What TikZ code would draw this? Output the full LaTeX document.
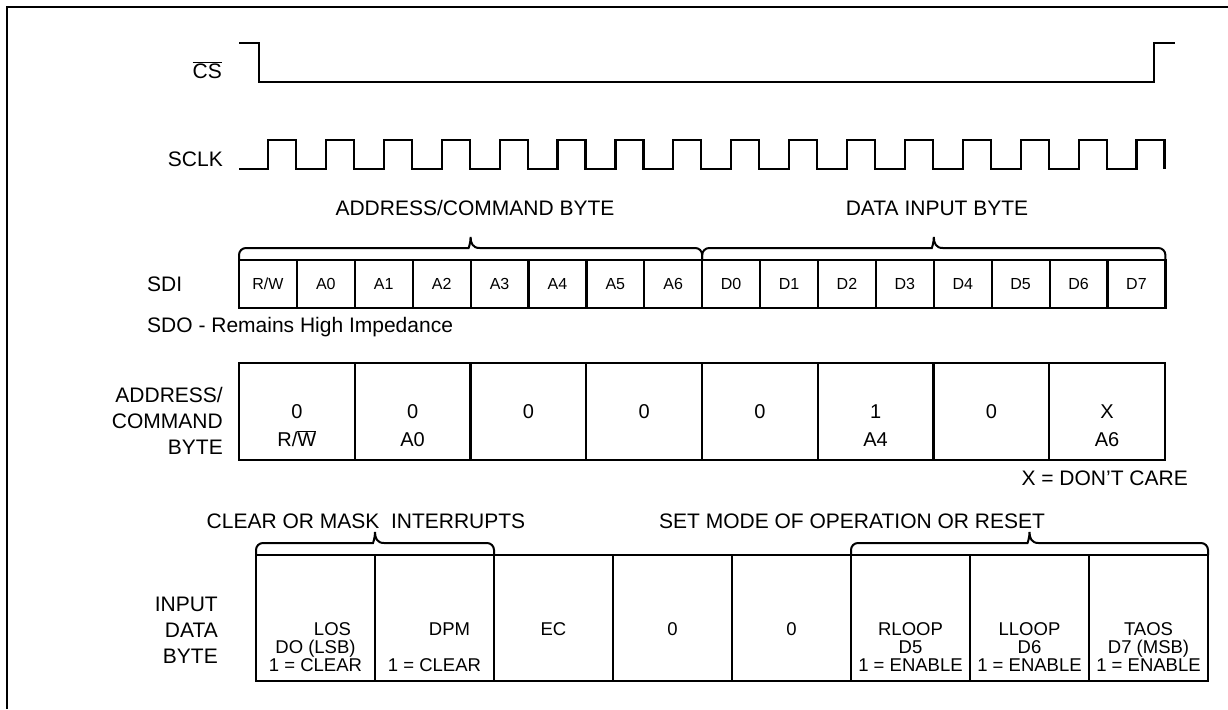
\documentclass[tikz,border=0pt]{standalone}
\usepackage{fontspec}
\setmainfont{Liberation Sans}
\usetikzlibrary{calc,chains,positioning}

\begin{document}
\begin{tikzpicture}[x=1pt,y=1pt,
  wave/.style={line width=2.2pt},
  cell/.style={draw,line width=2.2pt,inner sep=0pt,outer sep=0pt},
  sdicell/.style={cell,minimum width=57.9pt,minimum height=48pt,font=\fontsize{16}{18}\selectfont},
  adrcell/.style={cell,minimum width=115.75pt,minimum height=97pt},
  datcell/.style={cell,minimum width=119pt,minimum height=126pt},
  txt/.style={font=\fontsize{21}{26}\selectfont,inner sep=0pt},
  adrtxt/.style={font=\fontsize{20}{24}\selectfont,inner sep=0pt,anchor=base},
  dattxt/.style={font=\fontsize{18.5}{18}\selectfont,inner sep=0pt,anchor=base},
  bracepath/.style={line width=2pt}]

\useasboundingbox (0,0) rectangle (1228,-709);
\draw[line width=2.5pt] (7,-709) -- (7,-7) -- (1228,-7);

\node[txt,anchor=base east] (cs) at (222,-78) {$\overline{\mbox{CS}}$};
\node[txt,anchor=base east] (sclk) at (223,-166) {SCLK};
\draw[wave] (239,-43) -| (259,-82) -| (1154,-43) -- (1175,-43);
\draw[wave] (239,-169) \foreach \k in {0,...,15} { -| ({268+57.9*\k},-140) -| ({296+57.9*\k},-169) };

\begin{scope}[shift={(267.95,-284)},start chain=going right,node distance=0pt]
\def\sdibits{1/{R/W},2/{A0},3/{A1},4/{A2},5/{A3},6/{A4},7/{A5},8/{A6},9/{D0},10/{D1},11/{D2},12/{D3},13/{D4},14/{D5},15/{D6},16/{D7}}
\foreach \i / \element in \sdibits
  \node [on chain,sdicell] (s\i) {\element};
\end{scope}

\node[txt,anchor=base west] (sdi) at (147,-291) {SDI};
\node[txt,anchor=base west] (sdo) at (147,-332) {SDO - Remains High Impedance};
\node[txt,anchor=base] (acb) at (475,-215) {ADDRESS/COMMAND BYTE};
\node[txt,anchor=base] (dib) at (937,-215) {DATA INPUT BYTE};

\begin{scope}[shift={(296.875,-411.5)},start chain=going right,node distance=0pt]
\def\adrbits{1/0/{R/$\overline{\mbox{W}}$},2/0/{A0},3/0/{},4/0/{},5/0/{},6/1/{A4},7/0/{},8/X/{A6}}
\foreach \i / \element / \bitname in \adrbits {
  \node [on chain,adrcell] (a\i) {};
  \node [adrtxt,yshift=-6.5pt] (av\i) at (a\i.center) {\element};
  \node [adrtxt,yshift=-34.5pt] (an\i) at (a\i.center) {\bitname};
}
\end{scope}

\node[txt,align=right,anchor=east] (adl) at (223,-421) {ADDRESS/\\COMMAND\\BYTE};
\node[txt,anchor=base east] (dc) at (1188,-485) {X = DON'T CARE};

\node[txt,anchor=base] (cmi) at (366,-528) {CLEAR OR MASK~ INTERRUPTS};
\node[txt,anchor=base] (smo) at (852,-528) {SET MODE OF OPERATION OR RESET};

\begin{scope}[shift={(315.5,-618)},start chain=going right,node distance=0pt]
\def\datbits{1/{\hspace*{34pt}LOS}/{DO (LSB)}/{1 = CLEAR},2/{\hspace*{30pt}DPM}/{}/{1 = CLEAR},3/{EC}/{}/{},4/0/{}/{},5/0/{}/{},6/{RLOOP}/{D5}/{1 = ENABLE},7/{LLOOP}/{D6}/{1 = ENABLE},8/{TAOS}/{D7 (MSB)}/{1 = ENABLE}}
\foreach \i / \element / \bitname / \bitnote in \datbits {
  \node [on chain,datcell] (d\i) {};
  \node [dattxt,yshift=-17pt] (dv\i) at (d\i.center) {\element};
  \node [dattxt,yshift=-35pt] (dn\i) at (d\i.center) {\bitname};
  \node [dattxt,yshift=-53pt] (de\i) at (d\i.center) {\bitnote};
}
\end{scope}

\node[txt,align=right,anchor=east] (idl) at (218,-630) {INPUT\\DATA\\BYTE};

\foreach \lft / \rgt in {s1/s8,s9/s16,d1/d2,d6/d8} {
  \coordinate (bm) at ($(\lft.north west)!.5!(\rgt.north east)$);
  \draw[bracepath] (\lft.north west) [rounded corners=7pt] |- ($(bm)+(-9,12)$) [sharp corners]
    .. controls +(7,0) and +(0,-6) .. ($(bm)+(0,23)$)
    .. controls +(0,-6) and +(-7,0) .. ($(bm)+(9,12)$) [rounded corners=7pt] -| (\rgt.north east);
}

\end{tikzpicture}
\end{document}
